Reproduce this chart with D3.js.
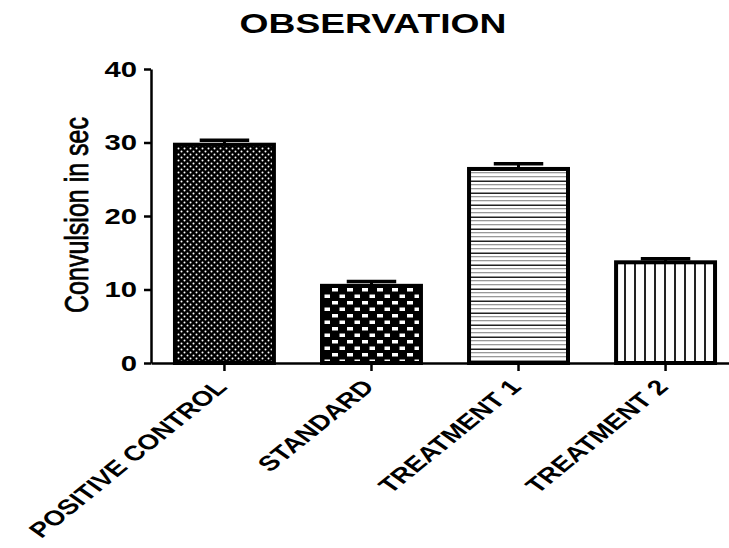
<!DOCTYPE html>
<html>
<head>
	<meta charset="utf-8">
	<script src="https://d3js.org/d3.v7.min.js"></script>
	<style>
		body { margin: 0; background: #fff; }
		text { font-family: "Liberation Sans", Arial, sans-serif; fill: #000; }
	</style>
</head>
<body>
	<script>
		// data
		var groups = ["POSITIVE CONTROL", "STANDARD", "TREATMENT 1", "TREATMENT 2"];
		var means = [29.7, 10.5, 26.4, 13.7];
		var sems = [0.6, 0.6, 0.7, 0.5];
		var fills = ["dots", "checks", "hlines", "vlines"];
		var yTicks = [0, 10, 20, 30, 40];

		var w = 729, h = 548;
		var sx = 1.33; // the picture is stretched sideways, text too

		var svg = d3.select("body").append("svg").attr("width", w).attr("height", h);
		var defs = svg.append("defs");

		// patterns for the bars
		var p1 = defs.append("pattern").attr("id", "dots").attr("patternUnits", "userSpaceOnUse")
			.attr("width", 6).attr("height", 6);
		p1.append("rect").attr("width", 6).attr("height", 6).attr("fill", "#000");
		p1.append("circle").attr("cx", 1.5).attr("cy", 1.5).attr("r", 1).attr("fill", "#fff");
		p1.append("circle").attr("cx", 4.5).attr("cy", 4.5).attr("r", 1).attr("fill", "#fff");

		var p2 = defs.append("pattern").attr("id", "checks").attr("patternUnits", "userSpaceOnUse")
			.attr("width", 15).attr("height", 13);
		p2.append("rect").attr("width", 15).attr("height", 13).attr("fill", "#000");
		p2.append("rect").attr("x", 2).attr("y", 2).attr("width", 6).attr("height", 3.5).attr("fill", "#fff");
		p2.append("rect").attr("x", 9.5).attr("y", 8.5).attr("width", 6).attr("height", 3.5).attr("fill", "#fff");

		var p3 = defs.append("pattern").attr("id", "hlines").attr("patternUnits", "userSpaceOnUse")
			.attr("width", 10).attr("height", 12);
		p3.append("rect").attr("width", 10).attr("height", 12).attr("fill", "#fff");
		p3.append("rect").attr("y", 0.5).attr("width", 10).attr("height", 1.5).attr("fill", "#222");
		p3.append("rect").attr("y", 4).attr("width", 10).attr("height", 1.3).attr("fill", "#999");
		p3.append("rect").attr("y", 8).attr("width", 10).attr("height", 1.3).attr("fill", "#999");

		var p4 = defs.append("pattern").attr("id", "vlines").attr("patternUnits", "userSpaceOnUse")
			.attr("width", 10).attr("height", 10).attr("x", 4);
		p4.append("rect").attr("width", 10).attr("height", 10).attr("fill", "#fff");
		p4.append("rect").attr("x", 0).attr("width", 2).attr("height", 10).attr("fill", "#222");

		// scales
		var x0 = 151, y0 = 363, yTop = 69;
		var xScale = d3.scaleBand().domain(groups).range([x0, 739])
			.paddingInner(0.327).paddingOuter(0.163);
		var yScale = d3.scaleLinear().domain([0, 40]).range([y0, yTop]);

		// bars
		svg.selectAll("rect.bar")
			.data(groups)
			.enter()
			.append("rect")
			.attr("class", "bar")
			.attr("x", function(d){ return xScale(d); })
			.attr("width", xScale.bandwidth())
			.attr("y", function(d, i){ return yScale(means[i]); })
			.attr("height", function(d, i){ return y0 - yScale(means[i]); })
			.attr("fill", function(d, i){ return "url(#" + fills[i] + ")"; })
			.attr("stroke", "#000")
			.attr("stroke-width", 4);

		// error bars (upper only)
		var capW = xScale.bandwidth() / 2;
		var err = svg.selectAll("g.err").data(groups).enter().append("g").attr("class", "err");
		err.append("line")
			.attr("x1", function(d){ return xScale(d) + xScale.bandwidth() / 2; })
			.attr("x2", function(d){ return xScale(d) + xScale.bandwidth() / 2; })
			.attr("y1", function(d, i){ return yScale(means[i]); })
			.attr("y2", function(d, i){ return yScale(means[i] + sems[i]); })
			.attr("stroke", "#000").attr("stroke-width", 3);
		err.append("line")
			.attr("x1", function(d){ return xScale(d) + xScale.bandwidth() / 2 - capW / 2; })
			.attr("x2", function(d){ return xScale(d) + xScale.bandwidth() / 2 + capW / 2; })
			.attr("y1", function(d, i){ return yScale(means[i] + sems[i]); })
			.attr("y2", function(d, i){ return yScale(means[i] + sems[i]); })
			.attr("stroke", "#000").attr("stroke-width", 3.5);

		// axes
		var yAxis = d3.axisLeft(yScale).tickValues(yTicks).tickSize(7).tickSizeOuter(0).tickFormat(d3.format("d"));
		var gy = svg.append("g").attr("transform", "translate(" + x0 + ",0)").call(yAxis);
		gy.selectAll("path, line").attr("stroke", "#000").attr("stroke-width", 2.5);
		gy.selectAll("text")
			.attr("x", -14 / sx)
			.attr("transform", "scale(" + sx + ",1)")
			.style("font-size", "22px").style("font-weight", "bold").attr("fill", "#000");

		var xAxis = d3.axisBottom(xScale).tickSize(8).tickSizeOuter(0);
		var gx = svg.append("g").attr("transform", "translate(0," + y0 + ")").call(xAxis);
		gx.selectAll("path, line").attr("stroke", "#000").attr("stroke-width", 2.5);
		gx.selectAll("text")
			.attr("x", 0).attr("y", 0).attr("dy", 0)
			.attr("text-anchor", "end")
			.attr("transform", "translate(4,25) scale(" + sx + ",1) rotate(-47)")
			.style("font-size", "21px").style("font-weight", "bold").attr("fill", "#000");

		// y title
		svg.append("text")
			.attr("transform", "translate(88,215) scale(" + sx + ",1) rotate(-90)")
			.attr("text-anchor", "middle")
			.style("font-size", "25px")
			.attr("stroke", "#000").attr("stroke-width", 0.6)
			.text("Convulsion in sec");

		// title
		svg.append("text")
			.attr("transform", "translate(373,33) scale(" + sx + ",1)")
			.attr("text-anchor", "middle")
			.style("font-size", "28px").style("font-weight", "bold")
			.text("OBSERVATION");
	</script>
</body>
</html>
